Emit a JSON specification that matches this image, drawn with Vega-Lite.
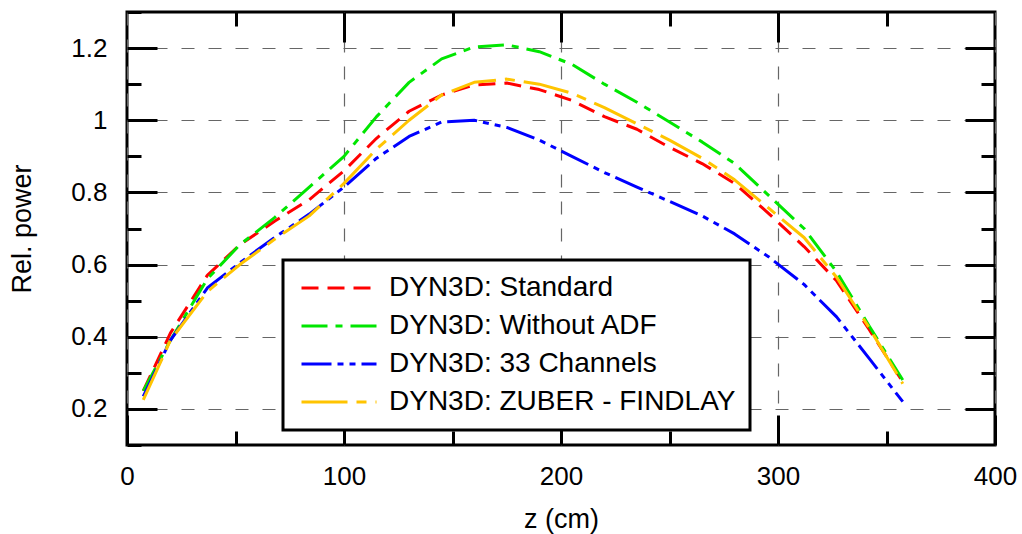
{
  "$schema": "https://vega.github.io/schema/vega-lite/v6.json",
  "width": 868,
  "height": 433,
  "autosize": {"type": "none"},
  "padding": {"left": 127, "top": 12, "right": 27, "bottom": 89},
  "background": "white",
  "config": {"view": {"stroke": "black", "strokeWidth": 3}, "font": "Liberation Sans"},
  "datasets": {
    "curves": [
      {"z": 7.5, "value": 0.25, "series": "DYN3D: Standard"},
      {"z": 20, "value": 0.41, "series": "DYN3D: Standard"},
      {"z": 37, "value": 0.57, "series": "DYN3D: Standard"},
      {"z": 52, "value": 0.655, "series": "DYN3D: Standard"},
      {"z": 68, "value": 0.72, "series": "DYN3D: Standard"},
      {"z": 84, "value": 0.78, "series": "DYN3D: Standard"},
      {"z": 100, "value": 0.86, "series": "DYN3D: Standard"},
      {"z": 115, "value": 0.95, "series": "DYN3D: Standard"},
      {"z": 130, "value": 1.025, "series": "DYN3D: Standard"},
      {"z": 145, "value": 1.07, "series": "DYN3D: Standard"},
      {"z": 160, "value": 1.098, "series": "DYN3D: Standard"},
      {"z": 175, "value": 1.103, "series": "DYN3D: Standard"},
      {"z": 190, "value": 1.085, "series": "DYN3D: Standard"},
      {"z": 205, "value": 1.055, "series": "DYN3D: Standard"},
      {"z": 220, "value": 1.01, "series": "DYN3D: Standard"},
      {"z": 235, "value": 0.975, "series": "DYN3D: Standard"},
      {"z": 250, "value": 0.925, "series": "DYN3D: Standard"},
      {"z": 265, "value": 0.88, "series": "DYN3D: Standard"},
      {"z": 280, "value": 0.825, "series": "DYN3D: Standard"},
      {"z": 296, "value": 0.74, "series": "DYN3D: Standard"},
      {"z": 312, "value": 0.65, "series": "DYN3D: Standard"},
      {"z": 327, "value": 0.555, "series": "DYN3D: Standard"},
      {"z": 342, "value": 0.42, "series": "DYN3D: Standard"},
      {"z": 357.5, "value": 0.275, "series": "DYN3D: Standard"},

      {"z": 7.5, "value": 0.25, "series": "DYN3D: Without ADF"},
      {"z": 20, "value": 0.39, "series": "DYN3D: Without ADF"},
      {"z": 37, "value": 0.56, "series": "DYN3D: Without ADF"},
      {"z": 52, "value": 0.655, "series": "DYN3D: Without ADF"},
      {"z": 68, "value": 0.73, "series": "DYN3D: Without ADF"},
      {"z": 84, "value": 0.815, "series": "DYN3D: Without ADF"},
      {"z": 100, "value": 0.9, "series": "DYN3D: Without ADF"},
      {"z": 115, "value": 1.01, "series": "DYN3D: Without ADF"},
      {"z": 130, "value": 1.105, "series": "DYN3D: Without ADF"},
      {"z": 145, "value": 1.17, "series": "DYN3D: Without ADF"},
      {"z": 160, "value": 1.203, "series": "DYN3D: Without ADF"},
      {"z": 175, "value": 1.209, "series": "DYN3D: Without ADF"},
      {"z": 190, "value": 1.19, "series": "DYN3D: Without ADF"},
      {"z": 205, "value": 1.155, "series": "DYN3D: Without ADF"},
      {"z": 220, "value": 1.1, "series": "DYN3D: Without ADF"},
      {"z": 235, "value": 1.05, "series": "DYN3D: Without ADF"},
      {"z": 250, "value": 0.995, "series": "DYN3D: Without ADF"},
      {"z": 265, "value": 0.94, "series": "DYN3D: Without ADF"},
      {"z": 280, "value": 0.88, "series": "DYN3D: Without ADF"},
      {"z": 296, "value": 0.79, "series": "DYN3D: Without ADF"},
      {"z": 312, "value": 0.7, "series": "DYN3D: Without ADF"},
      {"z": 327, "value": 0.58, "series": "DYN3D: Without ADF"},
      {"z": 342, "value": 0.43, "series": "DYN3D: Without ADF"},
      {"z": 357.5, "value": 0.28, "series": "DYN3D: Without ADF"},

      {"z": 7.5, "value": 0.235, "series": "DYN3D: 33 Channels"},
      {"z": 20, "value": 0.39, "series": "DYN3D: 33 Channels"},
      {"z": 37, "value": 0.535, "series": "DYN3D: 33 Channels"},
      {"z": 52, "value": 0.605, "series": "DYN3D: 33 Channels"},
      {"z": 68, "value": 0.675, "series": "DYN3D: 33 Channels"},
      {"z": 84, "value": 0.74, "series": "DYN3D: 33 Channels"},
      {"z": 100, "value": 0.815, "series": "DYN3D: 33 Channels"},
      {"z": 115, "value": 0.895, "series": "DYN3D: 33 Channels"},
      {"z": 130, "value": 0.955, "series": "DYN3D: 33 Channels"},
      {"z": 145, "value": 0.995, "series": "DYN3D: 33 Channels"},
      {"z": 160, "value": 1.0, "series": "DYN3D: 33 Channels"},
      {"z": 175, "value": 0.98, "series": "DYN3D: 33 Channels"},
      {"z": 190, "value": 0.945, "series": "DYN3D: 33 Channels"},
      {"z": 205, "value": 0.9, "series": "DYN3D: 33 Channels"},
      {"z": 220, "value": 0.855, "series": "DYN3D: 33 Channels"},
      {"z": 235, "value": 0.815, "series": "DYN3D: 33 Channels"},
      {"z": 250, "value": 0.775, "series": "DYN3D: 33 Channels"},
      {"z": 265, "value": 0.735, "series": "DYN3D: 33 Channels"},
      {"z": 280, "value": 0.685, "series": "DYN3D: 33 Channels"},
      {"z": 296, "value": 0.62, "series": "DYN3D: 33 Channels"},
      {"z": 312, "value": 0.545, "series": "DYN3D: 33 Channels"},
      {"z": 327, "value": 0.455, "series": "DYN3D: 33 Channels"},
      {"z": 342, "value": 0.34, "series": "DYN3D: 33 Channels"},
      {"z": 357.5, "value": 0.22, "series": "DYN3D: 33 Channels"},

      {"z": 7.5, "value": 0.225, "series": "DYN3D: ZUBER - FINDLAY"},
      {"z": 20, "value": 0.39, "series": "DYN3D: ZUBER - FINDLAY"},
      {"z": 37, "value": 0.525, "series": "DYN3D: ZUBER - FINDLAY"},
      {"z": 52, "value": 0.6, "series": "DYN3D: ZUBER - FINDLAY"},
      {"z": 68, "value": 0.67, "series": "DYN3D: ZUBER - FINDLAY"},
      {"z": 84, "value": 0.735, "series": "DYN3D: ZUBER - FINDLAY"},
      {"z": 100, "value": 0.825, "series": "DYN3D: ZUBER - FINDLAY"},
      {"z": 115, "value": 0.92, "series": "DYN3D: ZUBER - FINDLAY"},
      {"z": 130, "value": 1.0, "series": "DYN3D: ZUBER - FINDLAY"},
      {"z": 145, "value": 1.07, "series": "DYN3D: ZUBER - FINDLAY"},
      {"z": 160, "value": 1.105, "series": "DYN3D: ZUBER - FINDLAY"},
      {"z": 175, "value": 1.114, "series": "DYN3D: ZUBER - FINDLAY"},
      {"z": 190, "value": 1.1, "series": "DYN3D: ZUBER - FINDLAY"},
      {"z": 205, "value": 1.075, "series": "DYN3D: ZUBER - FINDLAY"},
      {"z": 220, "value": 1.035, "series": "DYN3D: ZUBER - FINDLAY"},
      {"z": 235, "value": 0.99, "series": "DYN3D: ZUBER - FINDLAY"},
      {"z": 250, "value": 0.945, "series": "DYN3D: ZUBER - FINDLAY"},
      {"z": 265, "value": 0.895, "series": "DYN3D: ZUBER - FINDLAY"},
      {"z": 280, "value": 0.835, "series": "DYN3D: ZUBER - FINDLAY"},
      {"z": 296, "value": 0.755, "series": "DYN3D: ZUBER - FINDLAY"},
      {"z": 312, "value": 0.675, "series": "DYN3D: ZUBER - FINDLAY"},
      {"z": 327, "value": 0.565, "series": "DYN3D: ZUBER - FINDLAY"},
      {"z": 342, "value": 0.425, "series": "DYN3D: ZUBER - FINDLAY"},
      {"z": 357.5, "value": 0.27, "series": "DYN3D: ZUBER - FINDLAY"}
    ]
  },
  "data": {"name": "curves"},
  "layer": [
    {
      "mark": {"type": "line", "strokeCap": "butt", "strokeJoin": "round"},
      "encoding": {
        "x": {
          "field": "z", "type": "quantitative",
          "scale": {"domain": [0, 400], "nice": false, "zero": false},
          "axis": {
            "orient": "bottom",
            "values": [0, 50, 100, 150, 200, 250, 300, 350, 400],
            "labelExpr": "datum.value % 100 == 0 ? datum.label : ''",
            "labelFontSize": 26, "labelColor": "black", "labelFlush": false, "labelOverlap": false, "labelPadding": 48,
            "title": "z (cm)", "titleFontSize": 27, "titleFontWeight": "normal", "titleColor": "black", "titlePadding": 1,
            "domain": false,
            "grid": true, "gridColor": "#666666", "gridWidth": 1.2, "gridDash": [13, 14],
            "gridOpacity": {"condition": {"test": "datum.value % 100 == 0", "value": 1}, "value": 0},
            "tickColor": "black", "tickWidth": 3,
            "tickSize": {"condition": {"test": "datum.value % 100 == 0", "value": -30}, "value": -14}
          }
        },
        "y": {
          "field": "value", "type": "quantitative",
          "scale": {"domain": [0.1, 1.3], "nice": false, "zero": false},
          "axis": {
            "orient": "left",
            "values": [0.1, 0.2, 0.3, 0.4, 0.5, 0.6, 0.7, 0.8, 0.9, 1, 1.1, 1.2, 1.3],
            "labelExpr": "round(datum.value * 10) % 2 == 0 ? (datum.value == 1 ? '1' : format(datum.value, '.1f')) : ''",
            "labelFontSize": 26, "labelColor": "black", "labelFlush": false, "labelOverlap": false, "labelPadding": 50,
            "title": "Rel. power", "titleFontSize": 27, "titleFontWeight": "normal", "titleColor": "black", "titlePadding": 34,
            "domain": false,
            "grid": true, "gridColor": "#666666", "gridWidth": 1.2, "gridDash": [13, 14],
            "gridOpacity": {"condition": {"test": "round(datum.value * 10) % 2 == 0", "value": 1}, "value": 0},
            "tickColor": "black", "tickWidth": 3,
            "tickSize": {"condition": {"test": "round(datum.value * 10) % 2 == 0", "value": -30}, "value": -14}
          }
        },
        "color": {
          "field": "series", "type": "nominal",
          "scale": {
            "domain": ["DYN3D: Standard", "DYN3D: Without ADF", "DYN3D: 33 Channels", "DYN3D: ZUBER - FINDLAY"],
            "range": ["#ff0000", "#00e600", "#0000ff", "#ffc400"]
          },
          "legend": {
            "orient": "none", "legendX": 156, "legendY": 248,
            "title": null, "labelFontSize": 28, "labelColor": "black", "labelLimit": 0,
            "symbolType": "M-4,0H4", "symbolSize": 351.5625, "symbolStrokeWidth": 3, "symbolOffset": 28,
            "padding": 14, "strokeColor": "black", "fillColor": "white",
            "rowPadding": 10, "labelOffset": 36,
            "encode": {"legend": {"update": {"strokeWidth": {"value": 3}}}}
          }
        },
        "strokeDash": {
          "field": "series", "type": "nominal",
          "scale": {
            "domain": ["DYN3D: Standard", "DYN3D: Without ADF", "DYN3D: 33 Channels", "DYN3D: ZUBER - FINDLAY"],
            "range": [[17, 9], [26, 8, 7, 8], [30, 6, 6, 6, 6, 6], [46, 9, 10, 9]]
          }
        },
        "strokeWidth": {
          "field": "series", "type": "nominal",
          "scale": {
            "domain": ["DYN3D: Standard", "DYN3D: Without ADF", "DYN3D: 33 Channels", "DYN3D: ZUBER - FINDLAY"],
            "range": [3, 3, 3, 2]
          },
          "legend": null
        }
      }
    },
    {
      "mark": {"type": "line", "opacity": 0},
      "encoding": {
        "detail": {"field": "series"},
        "x": {
          "field": "z", "type": "quantitative",
          "axis": {
            "orient": "top",
            "values": [50, 100, 150, 200, 250, 300, 350],
            "labels": false, "title": null, "domain": false, "grid": false,
            "tickColor": "black", "tickWidth": 3,
            "tickSize": {"condition": {"test": "datum.value % 100 == 0", "value": -30}, "value": -14}
          }
        },
        "y": {
          "field": "value", "type": "quantitative",
          "axis": {
            "orient": "right",
            "values": [0.2, 0.3, 0.4, 0.5, 0.6, 0.7, 0.8, 0.9, 1, 1.1, 1.2],
            "labels": false, "title": null, "domain": false, "grid": false,
            "tickColor": "black", "tickWidth": 3,
            "tickSize": {"condition": {"test": "round(datum.value * 10) % 2 == 0", "value": -30}, "value": -14}
          }
        }
      }
    }
  ],
  "resolve": {"axis": {"x": "independent", "y": "independent"}}
}
